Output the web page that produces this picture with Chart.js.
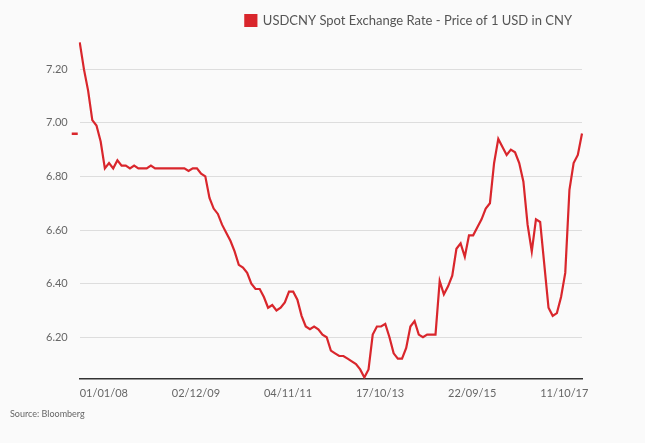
<!DOCTYPE html>
<html><head><meta charset="utf-8">
<script src="https://cdn.jsdelivr.net/npm/chart.js@4"></script>
<style>html,body{margin:0;padding:0;background:#fafafa}#w{width:645px;height:443px}</style>
</head><body><div id="w"><canvas id="c"></canvas></div>
<script>
const tickLabels = ["01/01/08","02/12/09","04/11/11","17/10/13","22/09/15","11/10/17"];
const tickIdx = [0,22,44,66,88,110];
const yTicks = [6.2,6.4,6.6,6.8,7.0,7.2];
const rates = [7.30,7.20,7.12,7.01,6.99,6.93,6.83,6.85,6.83,6.86,6.84,6.84,6.83,6.84,6.83,6.83,6.83,6.84,6.83,6.83,
6.83,6.83,6.83,6.83,6.83,6.83,6.82,6.83,6.83,6.81,6.80,6.72,6.68,6.66,6.62,6.59,6.56,6.52,6.47,6.46,
6.44,6.40,6.38,6.38,6.35,6.31,6.32,6.30,6.31,6.33,6.37,6.37,6.34,6.28,6.24,6.23,6.24,6.23,6.21,6.20,
6.15,6.14,6.13,6.13,6.12,6.11,6.10,6.08,6.05,6.08,6.21,6.24,6.24,6.25,6.20,6.14,6.12,6.12,6.16,6.24,
6.26,6.21,6.20,6.21,6.21,6.21,6.41,6.36,6.39,6.43,6.53,6.55,6.50,6.58,6.58,6.61,6.64,6.68,6.70,6.85,
6.94,6.91,6.88,6.90,6.89,6.85,6.78,6.62,6.52,6.64,6.63,6.47,6.31,6.28,6.29,6.35,6.44,6.75,6.85,6.88,6.96];
const labels = rates.map((_,i)=>{const k=tickIdx.indexOf(i);return k>=0?tickLabels[k]:"";});
const red = "#d9262c";
const extra = {id:"extra",afterDraw(ch){const c=ch.ctx,y=ch.scales.y,a=ch.chartArea;
  const last=rates[rates.length-1];c.save();c.fillStyle=red;c.fillRect(a.left-8,y.getPixelForValue(last)-1,6,2.5);
  c.fillStyle="#666";c.font="9px Lato";c.textBaseline="middle";c.fillText("Source: Bloomberg",10,414);c.restore();}};
new Chart(document.getElementById("c"),{type:"line",
data:{labels,datasets:[{label:"USDCNY Spot Exchange Rate - Price of 1 USD in CNY",data:rates,borderColor:red,backgroundColor:red,borderWidth:2.2,pointRadius:0,tension:0}]},
options:{responsive:true,maintainAspectRatio:false,animation:false,
layout:{padding:{left:34,right:63,top:4,bottom:40}},
plugins:{legend:{align:"end",labels:{boxWidth:11,boxHeight:11,color:"#555",font:{family:"Lato",size:13},padding:10}},tooltip:{enabled:false}},
scales:{
x:{grid:{display:false,drawTicks:true,tickLength:5,tickColor:"#ccc"},border:{color:"#333",width:1.5},
  ticks:{autoSkip:false,maxRotation:0,color:"#666",font:{family:"Lato",size:11},align:"start",callback:(v,i)=>labels[i]}},
y:{min:6.045,max:7.32,grid:{color:"#ddd",borderDash:[2,3],drawTicks:false},border:{display:false},
  afterBuildTicks:s=>{s.ticks=yTicks.map(v=>({value:v}));},
  ticks:{color:"#666",font:{family:"Lato",size:11},padding:12,callback:v=>v.toFixed(2)}}}},
plugins:[extra]});
</script></body></html>
